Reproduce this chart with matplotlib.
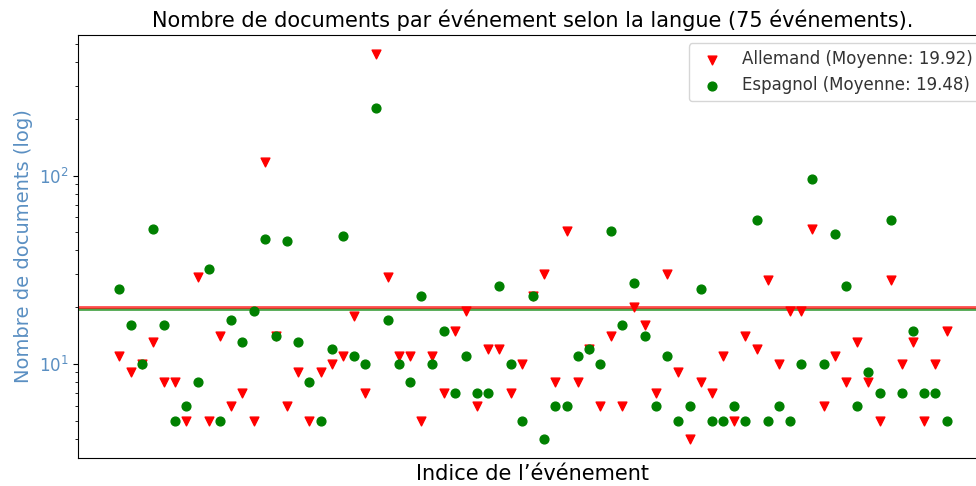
import numpy as np
import matplotlib
matplotlib.use("Agg")
import matplotlib.pyplot as plt

allemand = [11, 9, 10, 13, 8, 8, 5, 29, 5, 14,
            6, 7, 5, 118, 14, 6, 9, 5, 9, 10,
            11, 18, 7, 441, 29, 11, 11, 5, 11, 7,
            15, 19, 6, 12, 12, 7, 10, 23, 30, 8,
            51, 8, 12, 6, 14, 6, 20, 16, 7, 30,
            9, 4, 8, 7, 11, 5, 14, 12, 28, 10,
            19, 19, 52, 6, 11, 8, 13, 8, 5, 28,
            10, 13, 5, 10, 15]
espagnol = [25, 16, 10, 52, 16, 5, 6, 8, 32, 5,
            17, 13, 19, 46, 14, 45, 13, 8, 5, 12,
            48, 11, 10, 229, 17, 10, 8, 23, 10, 15,
            7, 11, 7, 7, 26, 10, 5, 23, 4, 6,
            6, 11, 12, 10, 51, 16, 27, 14, 6, 11,
            5, 6, 25, 5, 5, 6, 5, 58, 5, 6,
            5, 10, 96, 10, 49, 26, 6, 9, 7, 58,
            7, 15, 7, 7, 5]
mean_all = 19.92
mean_esp = 19.48

idx = np.arange(len(allemand))
label_color = '#5a8fc2'

fig = plt.figure(figsize=(9.76, 4.86), dpi=100)
ax = fig.add_axes([78/976, 28/486, 910/976, 423/486])

ax.scatter(idx, allemand, marker='v', color='red', s=40,
           label='Allemand (Moyenne: %.2f)' % mean_all, zorder=3)
ax.scatter(idx, espagnol, marker='o', color='green', s=40,
           label='Espagnol (Moyenne: %.2f)' % mean_esp, zorder=3)
ax.axhline(mean_esp, color='green', alpha=0.7, lw=2, zorder=2)
ax.axhline(mean_all, color='red', alpha=0.7, lw=2, zorder=2)

ax.set_yscale('log')
ax.set_xticks([])
ax.set_title('Nombre de documents par événement selon la langue (75 événements).', fontsize=15)
ax.set_xlabel('Indice de l\u2019événement', fontsize=15)
ax.set_ylabel('Nombre de documents (log)', fontsize=14, color=label_color)
ax.tick_params(axis='y', which='both', labelcolor=label_color, labelsize=12)
ax.legend(loc='upper right', fontsize=12, labelcolor='#333333')

fig.savefig('out.png', dpi=100)
